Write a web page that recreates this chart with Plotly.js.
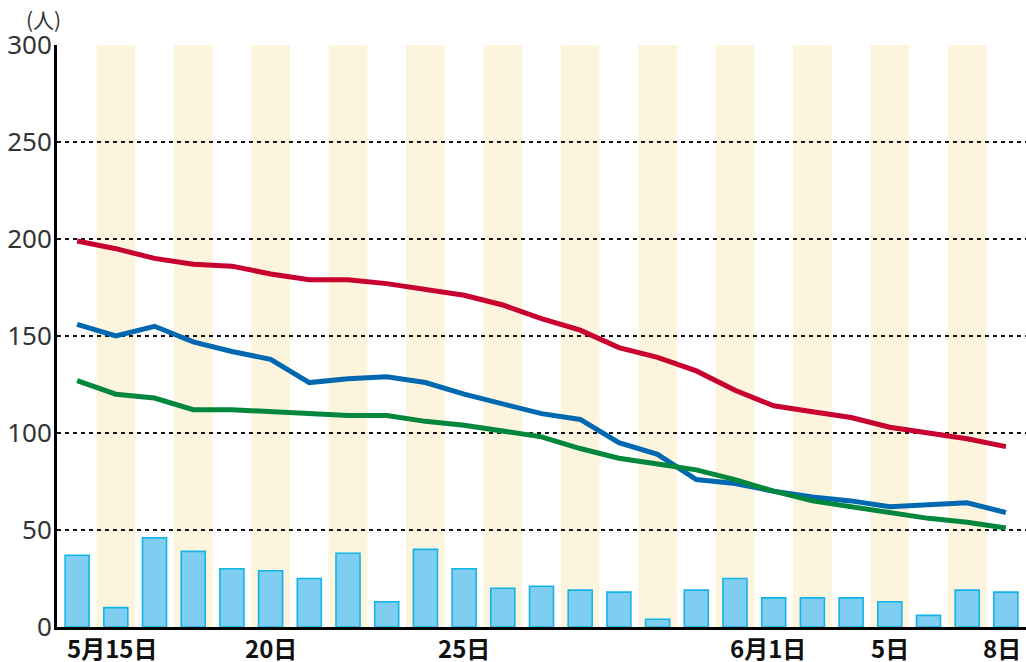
<!DOCTYPE html>
<html>
<head>
<meta charset="utf-8">
<script src="https://cdn.plot.ly/plotly-3.0.1.min.js"></script>
<style>
html,body{margin:0;padding:0;background:#fff;}
#chart{width:1026px;height:662px;}
</style>
</head>
<body>
<div id="chart"></div>
<script>
// Days 5/15 .. 6/8 (index 0..24)
const days = [0,1,2,3,4,5,6,7,8,9,10,11,12,13,14,15,16,17,18,19,20,21,22,23,24];
const dayLabels = ["5/15","5/16","5/17","5/18","5/19","5/20","5/21","5/22","5/23","5/24","5/25","5/26","5/27","5/28","5/29","5/30","5/31","6/1","6/2","6/3","6/4","6/5","6/6","6/7","6/8"];
const dailyCount = [37,10,46,39,30,29,25,38,13,40,30,20,21,19,18,4,19,25,15,15,15,13,6,19,18];
const redSeries   = [199,195,190,187,186,182,179,179,177,174,171,166,159,153,144,139,132,122,114,111,108,103,100,97,93];
const blueSeries  = [156,150,155,147,142,138,126,128,129,126,120,115,110,107,95,89,76,74,70,67,65,62,63,64,59];
const greenSeries = [127,120,118,112,112,111,110,109,109,106,104,101,98,92,87,84,81,76,70,65,62,59,56,54,51];
const tickDays  = [0, 5, 10, 17, 21, 24];
const tickTexts = ["5月15日", "20日", "25日", "6月1日", "5日", "8日"];
const yTicks = [0,50,100,150,200,250,300];
const unitLabel = "(人)";

const bandColor = "#fcf4dc";
const shapes = days.filter(d => d % 2 === 1).map(d => ({
  type: "rect", xref: "x", yref: "paper", layer: "below",
  x0: d - 0.5, x1: d + 0.5, y0: 0, y1: 1,
  fillcolor: bandColor, line: {width: 0}
}));

const traces = [
  {type: "bar", x: days, y: dailyCount, width: 0.62,
   marker: {color: "#7fcdf1", line: {color: "#12b4e8", width: 1.6}},
   hoverinfo: "skip"},
  {type: "scatter", mode: "lines", x: days, y: blueSeries,
   line: {color: "#0068b0", width: 5}, hoverinfo: "skip"},
  {type: "scatter", mode: "lines", x: days, y: greenSeries,
   line: {color: "#00873c", width: 5}, hoverinfo: "skip"},
  {type: "scatter", mode: "lines", x: days, y: redSeries,
   line: {color: "#c8002f", width: 5}, hoverinfo: "skip"}
];

const labelShift = {0: -11, 17: -6, 24: -4};
const labelAnchor = {0: "left", 17: "left"};
const annotations = tickDays.map((d, i) => ({
  x: d, xref: "x", y: 0, yref: "paper",
  text: tickTexts[i], showarrow: false, borderpad: 0,
  xanchor: labelAnchor[d] || "center", yanchor: "top",
  xshift: labelShift[d] || 0, yshift: -2,
  font: {family: "Noto Sans CJK JP", size: 24, color: "#111", weight: "bold"}
}));
annotations.push({
  x: 0, xref: "paper", y: 1, yref: "paper", text: unitLabel,
  showarrow: false, xanchor: "center", yanchor: "middle", borderpad: 0,
  xshift: -14, yshift: 26,
  font: {family: "Noto Sans CJK JP", size: 21, color: "#333"}
});

const layout = {
  width: 1026, height: 662,
  margin: {l: 57, r: 0, t: 45, b: 35, pad: 0},
  paper_bgcolor: "#fff", plot_bgcolor: "rgba(0,0,0,0)",
  showlegend: false, barmode: "overlay",
  xaxis: {
    range: [-0.52, 24.52], showgrid: false, zeroline: false,
    showticklabels: false, ticks: "",
    showline: true, linecolor: "#000", linewidth: 3
  },
  yaxis: {
    range: [0, 300], tickvals: yTicks, ticks: "",
    showgrid: true, gridcolor: "#111", gridwidth: 1.3, griddash: "4px,4px",
    zeroline: false, showline: true, linecolor: "#000", linewidth: 3,
    tickfont: {family: "Noto Sans", size: 26, color: "#333"},
    ticklabelstandoff: -3
  },
  shapes: shapes,
  annotations: annotations
};

Plotly.newPlot("chart", traces, layout, {displayModeBar: false, staticPlot: true});
</script>
</body>
</html>
